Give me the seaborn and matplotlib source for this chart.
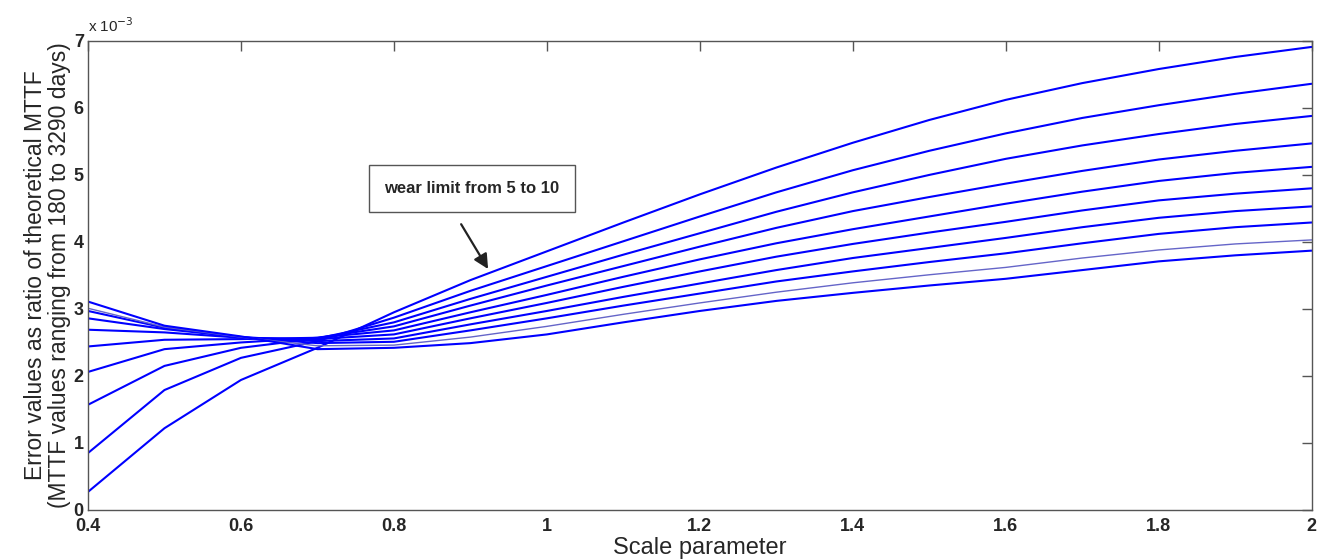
import numpy as np
import pandas as pd
import matplotlib
matplotlib.use("Agg")
import matplotlib.pyplot as plt
import seaborn as sns

# scale parameter grid
scale = [0.4, 0.5, 0.6, 0.7, 0.8, 0.9, 1.0, 1.1, 1.2, 1.3, 1.4, 1.5, 1.6, 1.7, 1.8, 1.9, 2.0]

# error values (x 10^-3), one curve per wear limit (top curve at right first)
c1 = [0.27, 1.22, 1.94, 2.42, 2.95, 3.43, 3.86, 4.29, 4.71, 5.11, 5.48, 5.82, 6.12, 6.37, 6.58, 6.76, 6.91]
c2 = [0.85, 1.79, 2.27, 2.52, 2.87, 3.27, 3.64, 4.01, 4.38, 4.74, 5.07, 5.36, 5.62, 5.85, 6.04, 6.21, 6.36]
c3 = [1.57, 2.15, 2.42, 2.56, 2.80, 3.15, 3.48, 3.81, 4.13, 4.45, 4.74, 5.00, 5.24, 5.44, 5.61, 5.76, 5.88]
c4 = [2.06, 2.40, 2.50, 2.57, 2.74, 3.05, 3.35, 3.64, 3.93, 4.21, 4.46, 4.67, 4.87, 5.06, 5.23, 5.36, 5.47]
c5 = [2.44, 2.54, 2.55, 2.57, 2.68, 2.95, 3.21, 3.48, 3.74, 3.98, 4.19, 4.38, 4.57, 4.75, 4.91, 5.03, 5.12]
c6 = [2.69, 2.65, 2.57, 2.55, 2.62, 2.86, 3.09, 3.33, 3.56, 3.78, 3.97, 4.14, 4.30, 4.47, 4.62, 4.72, 4.80]
c7 = [2.86, 2.70, 2.58, 2.52, 2.56, 2.77, 2.97, 3.18, 3.38, 3.58, 3.76, 3.91, 4.06, 4.22, 4.36, 4.46, 4.53]
c8 = [2.97, 2.72, 2.58, 2.49, 2.51, 2.68, 2.86, 3.05, 3.23, 3.41, 3.56, 3.70, 3.83, 3.98, 4.12, 4.22, 4.29]
c9 = [3.01, 2.73, 2.58, 2.45, 2.46, 2.58, 2.74, 2.92, 3.09, 3.25, 3.39, 3.51, 3.62, 3.76, 3.88, 3.97, 4.03]
c10 = [3.11, 2.75, 2.59, 2.40, 2.42, 2.49, 2.62, 2.80, 2.97, 3.12, 3.24, 3.35, 3.45, 3.58, 3.71, 3.80, 3.87]

curves = [c1, c2, c3, c4, c5, c6, c7, c8, c9, c10]
x_ticks = [0.4, 0.6, 0.8, 1, 1.2, 1.4, 1.6, 1.8, 2]
x_tick_labels = ['0.4', '0.6', '0.8', '1', '1.2', '1.4', '1.6', '1.8', '2']
y_ticks = [0, 1, 2, 3, 4, 5, 6, 7]

sns.set_style("white")
plt.rcParams['font.family'] = ['Liberation Sans', 'DejaVu Sans']

fig = plt.figure(figsize=(13.25, 5.6), dpi=100)
ax = fig.add_axes([0.0664, 0.0893, 0.9236, 0.8377])

for i, c in enumerate(curves):
    if i == 8:
        sns.lineplot(x=scale, y=c, color='#6565c8', lw=1.0, ax=ax)
    else:
        sns.lineplot(x=scale, y=c, color='#0000ff', lw=1.5, ax=ax)

ax.set_xlim(0.4, 2)
ax.set_ylim(0, 7)
ax.set_xticks(x_ticks)
ax.set_xticklabels(x_tick_labels)
ax.set_yticks(y_ticks)
ax.tick_params(direction='in', top=True, right=True, length=7, width=1,
               color='#555555', labelsize=13)
ax.tick_params(axis='x', pad=6)
ax.tick_params(axis='y', pad=3)
for lab in ax.get_xticklabels() + ax.get_yticklabels():
    lab.set_fontweight('bold')
for sp in ax.spines.values():
    sp.set_color('#555555')
    sp.set_linewidth(1)

ax.set_xlabel('Scale parameter', fontsize=17, labelpad=1)
ax.set_ylabel('Error values as ratio of theoretical MTTF\n(MTTF values ranging from 180 to 3290 days)',
              fontsize=16.5, labelpad=2, linespacing=1.05)
ax.text(0.0, 1.012, 'x 10$^{-3}$', transform=ax.transAxes, fontsize=11, ha='left', va='bottom')

ax.text(0.902, 4.80, 'wear limit from 5 to 10', fontsize=12, fontweight='bold',
        ha='center', va='center',
        bbox=dict(boxstyle='square,pad=0.95', fc='white', ec='#555555', lw=1))
ax.annotate('', xy=(0.925, 3.56), xytext=(0.886, 4.30),
            arrowprops=dict(arrowstyle='-|>', color='#222222', lw=1.6, mutation_scale=22))

fig.savefig('out.png', dpi=100)
